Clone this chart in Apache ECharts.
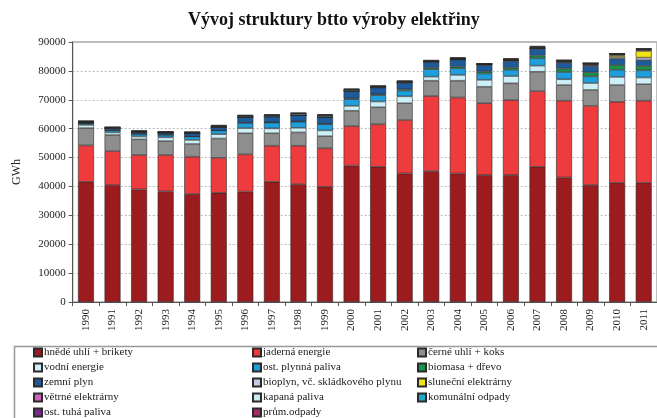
<!DOCTYPE html>
<html>
<head>
<meta charset="utf-8">
<script src="https://cdn.jsdelivr.net/npm/echarts@6/dist/echarts.min.js"></script>
<style>html,body{margin:0;padding:0;background:#fff}#c{width:657px;height:418px}</style>
</head>
<body>
<div id="c"></div>
<script>
const years = ['1990','1991','1992','1993','1994','1995','1996','1997','1998','1999','2000','2001','2002','2003','2004','2005','2006','2007','2008','2009','2010','2011'];
const hnedeUhli   = [41600,40400,39000,38300,37400,37800,38200,41600,40800,39900,47200,46800,44500,45300,44500,43900,43900,46800,43100,40500,41300,41300];
const jaderna     = [12600,11850,11900,12600,12900,12100,12900,12500,13300,13300,13700,14700,18500,26000,26300,24900,26000,26200,26600,27400,28000,28400];
const cerneUhli   = [6000,5550,5400,4800,4400,6700,7300,4300,4600,4200,5300,5900,5800,5300,5800,5700,5800,6700,5400,5500,5800,5700];
const vodni       = [1100,900,1000,1300,1400,1500,1800,1700,1600,2000,1700,2000,2400,1400,2000,2400,2500,2100,2000,2400,2800,2300];
const ostPlynna   = [500,800,900,900,1200,1300,1800,2000,2100,2200,2300,2200,2000,2600,2300,2200,2200,2600,2500,2300,2500,2500];
const biomasa     = [0,0,0,0,0,0,100,100,100,100,300,300,400,500,600,700,700,900,1200,1400,1600,1500];
const zemniPlyn   = [500,600,700,700,1100,1200,1900,2000,2200,2400,2500,2300,2300,2000,2400,2200,2300,2300,2000,2100,2200,2000];
const bioplyn     = [0,0,0,0,0,0,0,0,0,0,100,100,100,100,100,200,200,200,300,400,600,900];
const slunecni    = [0,0,0,0,0,0,0,0,0,0,0,0,0,0,0,0,0,0,100,100,600,2300];
const vetrne      = [0,0,0,0,0,0,0,0,0,0,0,0,0,0,100,100,100,100,200,300,300,400];
const kapalna     = [200,300,200,200,300,300,400,400,500,500,400,300,300,200,200,100,200,200,100,100,100,100];
const komunalni   = [0,0,0,0,0,0,0,0,0,0,0,0,0,0,0,0,100,100,100,100,100,100];
const ostTuha     = [100,100,100,100,100,200,200,200,200,200,200,200,200,200,200,100,200,200,100,100,100,200];
const prumOdpady  = [100,100,100,100,100,100,100,100,100,200,100,100,100,100,200,100,100,200,0,0,0,100];

const seriesDefs = [
  ['hnědé uhlí + brikety', hnedeUhli, '#9B1B1F'],
  ['jaderná energie', jaderna, '#EE3B3D'],
  ['černé uhlí + koks', cerneUhli, '#8E8E8E'],
  ['vodní energie', vodni, '#CDEFF7'],
  ['ost. plynná paliva', ostPlynna, '#1E9FDB'],
  ['biomasa + dřevo', biomasa, '#19944A'],
  ['zemní plyn', zemniPlyn, '#1D5C9C'],
  ['bioplyn, vč. skládkového plynu', bioplyn, '#C3CCE6'],
  ['sluneční elektrárny', slunecni, '#F0E510'],
  ['větrné elektrárny', vetrne, '#D060C0'],
  ['kapaná paliva', kapalna, '#C8ECF0'],
  ['komunální odpady', komunalni, '#22A8C8'],
  ['ost. tuhá paliva', ostTuha, '#7A2A8C'],
  ['prům.odpady', prumOdpady, '#A02C68']
];

const serif = '"Liberation Serif","DejaVu Serif",serif';
const col1 = ['hnědé uhlí + brikety','vodní energie','zemní plyn','větrné elektrárny','ost. tuhá paliva'];
const col2 = ['jaderná energie','ost. plynná paliva','bioplyn, vč. skládkového plynu','kapaná paliva','prům.odpady'];
const col3 = ['černé uhlí + koks','biomasa + dřevo','sluneční elektrárny','komunální odpady'];

function legendCol(data, left) {
  return {
    data: data, orient: 'vertical', left: left, top: 347,
    itemWidth: 8, itemHeight: 8, itemGap: 4, icon: 'rect', padding: 0,
    textStyle: { fontFamily: serif, fontSize: 11, color: '#222', padding: [0,0,0,-3] }
  };
}

const chart = echarts.init(document.getElementById('c'), null, { renderer: 'canvas' });
chart.setOption({
  animation: false,
  backgroundColor: '#fff',
  title: {
    text: 'Vývoj struktury btto výroby elektřiny',
    left: 183, top: 6,
    textStyle: { fontFamily: serif, fontSize: 18, fontWeight: 'bold', color: '#111' }
  },
  legend: [legendCol(col1, 33), legendCol(col2, 252), legendCol(col3, 417)],
  graphic: [{
    type: 'rect', left: 12, top: 344,
    shape: { width: 660, height: 90 },
    style: { fill: 'none', stroke: '#999', lineWidth: 1.5 }
  }],
  grid: { left: 72.7, right: 0, top: 42, bottom: 116, show: true, borderColor: '#aaa', borderWidth: 1.5 },
  xAxis: {
    type: 'category', data: years,
    axisLine: { lineStyle: { color: '#555' } },
    axisTick: { show: true, length: 4, lineStyle: { color: '#555' } },
    axisLabel: { rotate: 90, fontFamily: serif, fontSize: 11, color: '#222', margin: 7 }
  },
  yAxis: {
    type: 'value', min: 0, max: 90000, interval: 10000,
    name: 'GWh', nameLocation: 'middle', nameGap: 50, nameRotate: 90,
    nameTextStyle: { fontFamily: serif, fontSize: 12, color: '#222' },
    axisLine: { show: true, lineStyle: { color: '#555' } },
    axisTick: { show: true, length: 4, lineStyle: { color: '#555' } },
    axisLabel: { fontFamily: serif, fontSize: 11, color: '#222', margin: 7, formatter: v => String(v) },
    splitLine: { lineStyle: { color: '#bbb', type: [2, 2] } }
  },
  series: seriesDefs.map(([name, data, color]) => ({
    name: name, type: 'bar', stack: 'total', data: data, barWidth: '60%',
    itemStyle: { color: color, borderColor: '#2a2a2a', borderWidth: 0.6 }
  }))
});
</script>
</body>
</html>
